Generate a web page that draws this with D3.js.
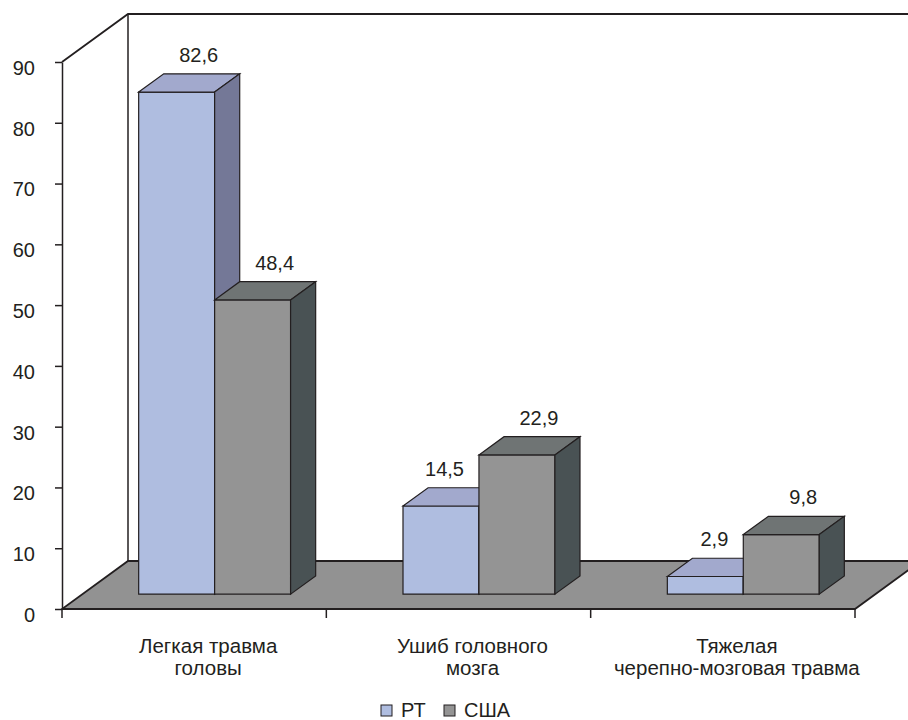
<!DOCTYPE html>
<html>
<head>
<meta charset="utf-8">
<script src="https://cdn.jsdelivr.net/npm/d3@7"></script>
<style>
  body { margin: 0; background: #fff; }
  svg text { font-family: "Liberation Sans", Arial, sans-serif; fill: #231f20; }
</style>
</head>
<body>
<svg id="vis"></svg>
<script>
const width = 908;
const height = 720;

const categories = ["Легкая травма|головы", "Ушиб головного|мозга", "Тяжелая|черепно-мозговая травма"];
const series = ["РТ", "США"];
const valuesRT = [82.6, 14.5, 2.9];
const valuesUSA = [48.4, 22.9, 9.8];
const labelsRT = ["82,6", "14,5", "2,9"];
const labelsUSA = ["48,4", "22,9", "9,8"];
const yTicks = [0, 10, 20, 30, 40, 50, 60, 70, 80, 90];

const ink = "#231f20";
const colors = {
  "РТ": { front: "#afbde0", top: "#a2a9cd", side: "#747897" },
  "США": { front: "#949494", top: "#6f7474", side: "#495254" }
};

// depth of the 3d box (offset of the back plane)
const depth = { dx: 66, dy: -48 };
const zFront = 0.31, zBack = 0.69;

const svg = d3.select("svg#vis").attr("width", width).attr("height", height);

const x0 = d3.scaleBand().domain(categories).range([62, 855]).padding(0);
const x1 = d3.scaleBand().domain(series).range([0, x0.bandwidth()]).paddingInner(0).paddingOuter(0.74);
const y = d3.scaleLinear().domain([0, 90]).range([609, 62]);

const line = d3.line();

// left wall edge and back wall
svg.append("path")
  .attr("d", line([[62, y(90)], [62 + depth.dx, y(90) + depth.dy], [width + 20, y(90) + depth.dy]]))
  .attr("fill", "none").attr("stroke", ink).attr("stroke-width", 1.8);
svg.append("path")
  .attr("d", line([[62 + depth.dx, y(90) + depth.dy], [62 + depth.dx, y(0) + depth.dy]]))
  .attr("fill", "none").attr("stroke", ink).attr("stroke-width", 1.5);

// floor
const x0end = x0.range()[1];
svg.append("path")
  .attr("d", line([[62, y(0)], [x0end, y(0)], [x0end + depth.dx, y(0) + depth.dy], [62 + depth.dx, y(0) + depth.dy]]) + "Z")
  .attr("fill", "#929292").attr("stroke", ink).attr("stroke-width", 1.8);

// y axis
const yAxis = svg.append("g")
  .attr("transform", "translate(62,0)")
  .call(d3.axisLeft(y).tickValues(yTicks).tickSize(7).tickPadding(20).tickSizeOuter(0));
yAxis.select(".domain").attr("stroke", ink).attr("stroke-width", 1.5);
yAxis.selectAll(".tick line").attr("stroke", ink).attr("stroke-width", 1.5);
yAxis.selectAll(".tick text")
  .attr("font-size", 20).attr("font-family", "Liberation Sans, Arial, sans-serif")
  .attr("fill", ink).attr("transform", "translate(0,6)");

// x axis ticks at category boundaries
const xBounds = categories.map(c => x0(c)).concat([x0end]);
svg.selectAll("line.xtick")
  .data(xBounds)
  .enter()
  .append("line")
  .attr("x1", d => d).attr("x2", d => d)
  .attr("y1", y(0)).attr("y2", y(0) + 9)
  .attr("stroke", ink).attr("stroke-width", 1.5);

// bars
const bars = [];
categories.forEach((c, i) => {
  bars.push({ cat: c, s: "РТ", v: valuesRT[i], label: labelsRT[i], next: valuesUSA[i] });
  bars.push({ cat: c, s: "США", v: valuesUSA[i], label: labelsUSA[i], next: null });
});

const fdx = zFront * depth.dx, fdy = zFront * depth.dy;
const bdx = zBack * depth.dx, bdy = zBack * depth.dy;

const barG = svg.selectAll("g.bar")
  .data(bars)
  .enter()
  .append("g")
  .attr("class", "bar");

barG.each(function(d) {
  const g = d3.select(this);
  const xl = x0(d.cat) + x1(d.s) + fdx;
  const xr = xl + x1.bandwidth();
  const yt = y(d.v) + fdy;
  const yb = y(0) + fdy;
  const ddx = bdx - fdx, ddy = bdy - fdy;
  const c = colors[d.s];
  g.append("path")
    .attr("d", line([[xl, yt], [xr, yt], [xr, yb], [xl, yb]]) + "Z")
    .attr("fill", c.front).attr("stroke", ink).attr("stroke-width", 1.2);
  g.append("path")
    .attr("d", line([[xl, yt], [xl + ddx, yt + ddy], [xr + ddx, yt + ddy], [xr, yt]]) + "Z")
    .attr("fill", c.top).attr("stroke", ink).attr("stroke-width", 1.2);
  g.append("path")
    .attr("d", line([[xr, yt], [xr + ddx, yt + ddy], [xr + ddx, yb + ddy], [xr, yb]]) + "Z")
    .attr("fill", c.side).attr("stroke", ink).attr("stroke-width", 1.2);
  // label: shifted left when the neighbouring bar is taller
  const blocked = d.next !== null && d.next > d.v;
  g.append("text")
    .attr("x", blocked ? xr - 15 : (xl + xr) / 2 + 22)
    .attr("y", yt + ddy - 12)
    .attr("text-anchor", blocked ? "end" : "middle")
    .attr("font-size", 20)
    .text(d.label);
});

// category labels
svg.selectAll("text.cat")
  .data(categories)
  .enter()
  .append("text")
  .attr("class", "cat")
  .attr("text-anchor", "middle")
  .attr("font-size", 20.5)
  .each(function(d) {
    const cx = x0(d) + x0.bandwidth() / 2 + 14;
    d3.select(this).selectAll("tspan")
      .data(d.split("|"))
      .enter()
      .append("tspan")
      .attr("x", cx)
      .attr("y", (t, j) => 653 + j * 22)
      .text(t => t);
  });

// legend
const legendX = d3.scaleOrdinal().domain(series).range([381, 444]);
const legend = svg.selectAll("g.legend")
  .data(series)
  .enter()
  .append("g")
  .attr("class", "legend")
  .attr("transform", d => "translate(" + legendX(d) + ",705)");
legend.append("rect")
  .attr("width", 11).attr("height", 11)
  .attr("fill", d => colors[d].front).attr("stroke", ink).attr("stroke-width", 1);
legend.append("text")
  .attr("x", 20).attr("y", 12)
  .attr("font-size", 20)
  .text(d => d);
</script>
</body>
</html>
